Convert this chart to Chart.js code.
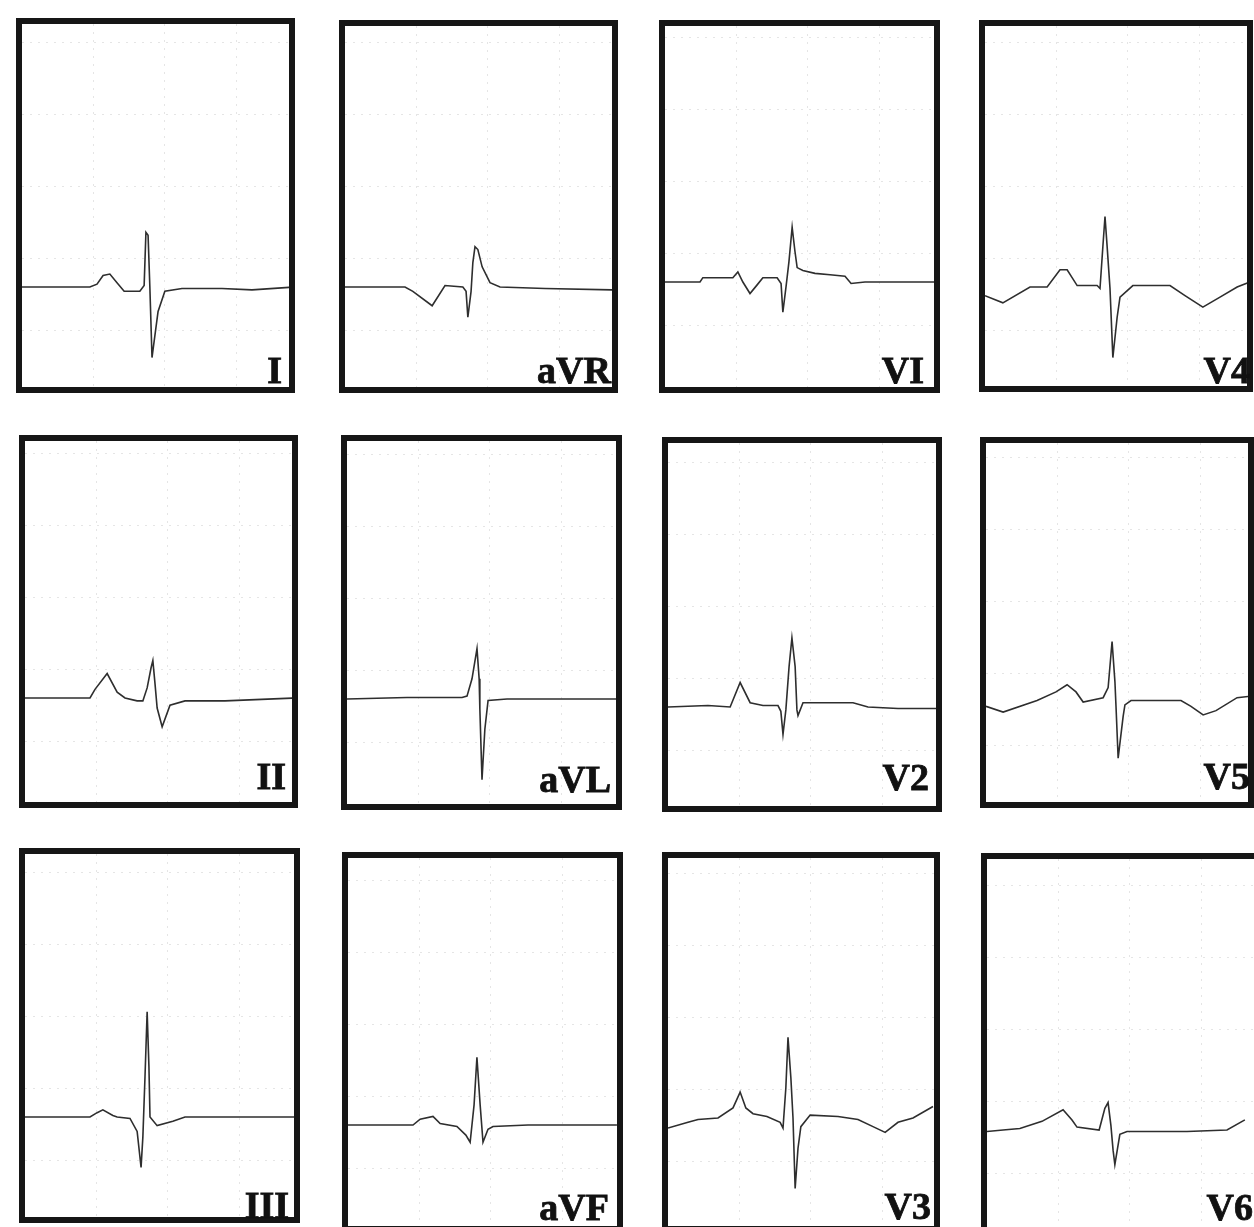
<!DOCTYPE html>
<html><head><meta charset="utf-8">
<script src="https://cdn.jsdelivr.net/npm/chart.js@4.4.1/dist/chart.umd.min.js"></script>
<style>
html,body{margin:0;padding:0;background:#fff;}
body{width:1254px;height:1227px;position:relative;overflow:hidden;}
.panel{position:absolute;box-sizing:border-box;border:6px solid #161616;background:#fff;}
.panel canvas{display:block;}
.lbl{position:absolute;font-family:"Liberation Serif","Times New Roman",serif;font-weight:bold;font-size:38px;line-height:38px;color:#111;white-space:nowrap;z-index:5;-webkit-text-stroke:0.8px #111;}
</style></head><body>
<script>
// ---- data: time (ms) and amplitude (mV) per lead ----
const LEADS = ['I','aVR','VI','V4','II','aVL','V2','V5','III','aVF','V3','V6'];

const T_I   = [0,190,210,227,246,266,286,330,342,347,353,358,364,381,400,448,560,644,762];
const V_I   = [0,0,0.02,0.08,0.09,0.03,-0.03,-0.03,0.01,0.38,0.36,0,-0.49,-0.17,-0.03,-0.01,-0.01,-0.02,0];

const T_AVR = [0,168,190,244,280,330,339,344,353,358,364,372,384,406,434,560,750];
const V_AVR = [0,0,-0.03,-0.13,0.01,0,-0.03,-0.21,-0.03,0.17,0.28,0.26,0.14,0.03,0,-0.01,-0.02];

const T_V1  = [0,98,106,190,204,218,238,258,274,314,325,330,339,347,356,364,370,386,420,462,504,521,560,762];
const V_V1  = [0,0,0.03,0.03,0.07,0,-0.08,-0.02,0.03,0.03,-0.01,-0.21,-0.03,0.14,0.38,0.21,0.1,0.08,0.06,0.05,0.04,-0.01,0,0];

const T_V4  = [0,50,126,174,210,230,258,314,322,330,336,342,350,358,370,378,414,518,560,610,658,706,736];
const V_V4  = [-0.06,-0.11,0,0,0.12,0.12,0.01,0.01,-0.01,0.28,0.49,0.28,-0.01,-0.49,-0.21,-0.07,0.01,0.01,-0.06,-0.14,-0.07,0,0.03];

const T_II  = [0,182,196,230,258,280,314,330,342,353,358,364,370,384,406,448,560,759];
const V_II  = [0,0,0.06,0.17,0.04,0,-0.02,-0.02,0.07,0.21,0.26,0.1,-0.07,-0.2,-0.05,-0.02,-0.02,0];

const T_AVL = [0,168,322,336,350,364,370,372,378,386,395,448,756];
const V_AVL = [0,0.01,0.01,0.02,0.14,0.35,0.14,-0.07,-0.56,-0.21,-0.01,0,0];

const T_V2  = [0,112,174,202,230,266,308,316,322,330,339,347,356,361,364,378,420,518,560,644,762];
const V_V2  = [0,0.01,0,0.17,0.03,0.01,0.01,-0.03,-0.19,-0.02,0.28,0.48,0.28,-0.02,-0.06,0.03,0.03,0.03,0,-0.01,-0.01];

const T_V5  = [0,48,143,196,227,252,272,328,342,353,361,364,370,384,389,406,546,574,608,644,703,739];
const V_V5  = [-0.03,-0.07,0.01,0.07,0.12,0.07,0,0.03,0.1,0.42,0.14,-0.03,-0.39,-0.1,-0.02,0.01,0.01,-0.03,-0.09,-0.06,0.03,0.04];

const T_III = [0,182,202,218,246,258,294,314,325,330,336,342,347,350,370,414,448,759];
const V_III = [0,0,0.03,0.05,0.01,0,-0.01,-0.1,-0.35,-0.14,0.28,0.73,0.35,0,-0.06,-0.03,0,0];

const T_AVF = [0,182,202,238,258,305,330,342,353,361,370,378,392,406,504,753];
const V_AVF = [0,0,0.04,0.06,0.01,-0.01,-0.07,-0.12,0.14,0.47,0.14,-0.12,-0.03,-0.01,0,0];

const T_V3  = [0,56,84,140,182,202,218,238,277,314,322,330,336,344,350,356,364,372,398,476,532,574,608,644,686,742];
const V_V3  = [-0.07,-0.03,-0.01,0,0.07,0.18,0.07,0.03,0.01,-0.03,-0.07,0.21,0.56,0.28,0,-0.49,-0.21,-0.06,0.02,0.01,-0.01,-0.06,-0.1,-0.03,0,0.08];

const T_V6  = [0,45,92,154,213,238,252,314,330,339,347,353,358,372,392,560,672,722];
const V_V6  = [-0.01,0,0.01,0.06,0.14,0.07,0.02,0,0.15,0.19,0.03,-0.14,-0.24,-0.03,-0.01,-0.01,0,0.07];

const GRID_MS = [200,400,600];
const GRID_MV = [-0.3,0.2,0.7,1.2,1.7];

const SERIES = [[T_I,V_I],[T_AVR,V_AVR],[T_V1,V_V1],[T_V4,V_V4],[T_II,V_II],[T_AVL,V_AVL],[T_V2,V_V2],[T_V5,V_V5],[T_III,V_III],[T_AVF,V_AVF],[T_V3,V_V3],[T_V6,V_V6]];

// ---- layout (page px): box left, top, width, height, baseline offset inside, label right x, label baseline y ----
const BORDER = 6, MS_PER_PX = 2.8, PX_PER_MV = 144;
const LAYOUT = [
  [16,18,279,375,263, 282,383],
  [339,20,279,373,261, 611,383],
  [659,20,281,373,256, 924,383],
  [979,20,274,372,261, 1250,383],
  [19,435,279,373,257, 286,789],
  [341,435,281,375,258, 611,792],
  [662,437,280,375,264, 929,790],
  [980,437,274,371,259, 1250,789],
  [19,848,281,375,263, 289,1218],
  [342,852,281,380,267, 609,1220],
  [662,852,278,380,260, 931,1219],
  [981,853,280,380,271, 1253,1220]
];

LEADS.forEach((name, i) => {
  const [L,T,W,H,base,lx,ly] = LAYOUT[i];
  const iw = W - 2*BORDER, ih = H - 2*BORDER;
  const div = document.createElement('div');
  div.className = 'panel';
  div.style.left = L+'px'; div.style.top = T+'px';
  div.style.width = W+'px'; div.style.height = H+'px';
  const cv = document.createElement('canvas');
  cv.width = iw; cv.height = ih;
  cv.style.width = iw+'px'; cv.style.height = ih+'px';
  div.appendChild(cv);
  document.body.appendChild(div);

  const lab = document.createElement('div');
  lab.className = 'lbl';
  lab.textContent = name;
  lab.style.right = (1254 - lx)+'px';
  lab.style.top = (ly - 32)+'px';
  document.body.appendChild(lab);

  const [ts, vs] = SERIES[i];
  const pts = ts.map((t,k) => ({x:t, y:vs[k]}));
  const gridCfg = {color:'rgba(0,0,0,0.10)', lineWidth:1, drawTicks:false};
  new Chart(cv, {
    type:'line',
    data:{datasets:[{data:pts, borderColor:'#2e2e2e', borderWidth:1.6, pointRadius:0, tension:0, fill:false}]},
    options:{
      responsive:false, animation:false, events:[],
      layout:{padding:0},
      plugins:{legend:{display:false}, tooltip:{enabled:false}},
      scales:{
        x:{type:'linear', min:0, max:iw*MS_PER_PX, ticks:{display:false}, grid:gridCfg,
           border:{display:false, dash:[2,6]},
           afterBuildTicks: ax => { ax.ticks = GRID_MS.map(v => ({value:v})); }},
        y:{type:'linear', min:-(ih-base)/PX_PER_MV, max:base/PX_PER_MV, ticks:{display:false}, grid:gridCfg,
           border:{display:false, dash:[2,6]},
           afterBuildTicks: ax => { ax.ticks = GRID_MV.map(v => ({value:v})); }}
      }
    }
  });
});
</script>
</body></html>
